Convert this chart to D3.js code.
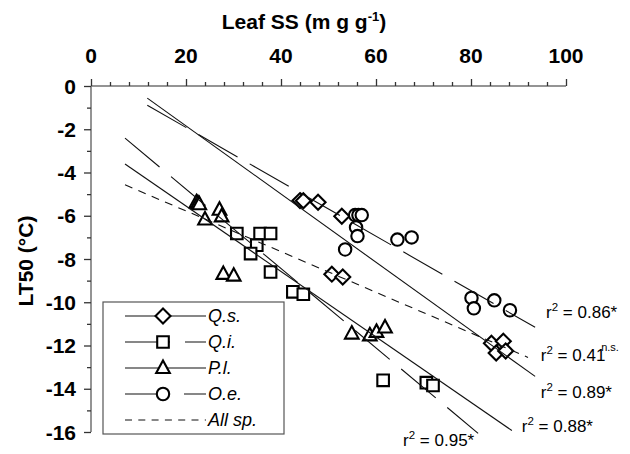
<!DOCTYPE html>
<html><head><meta charset="utf-8">
<script src="https://cdn.jsdelivr.net/npm/d3@7"></script>
<style>
body{margin:0;background:#fff}
svg{display:block}
text{font-family:"Liberation Sans",Arial,sans-serif;fill:#000}
</style>
</head><body>
<svg id="c" width="630" height="454"></svg>
<script>
// ---------- data ----------
const xTicks = [0, 20, 40, 60, 80, 100];
const yTicks = [0, -2, -4, -6, -8, -10, -12, -14, -16];
const speciesNames = ["Q.s.", "Q.i.", "P.l.", "O.e.", "All sp."];

const qsX = [44.0, 44.7, 47.8, 52.8, 50.7, 53.0, 84.3, 86.8, 85.3, 87.3];
const qsY = [-5.30, -5.31, -5.38, -6.02, -8.70, -8.83, -11.9, -11.8, -12.35, -12.25];

const qiX = [30.7, 35.6, 37.8, 34.9, 33.6, 37.8, 42.5, 44.7, 61.5, 70.6, 72.0];
const qiY = [-6.82, -6.82, -6.82, -7.36, -7.75, -8.60, -9.52, -9.63, -13.61, -13.72, -13.85];

const plX = [22.2, 22.5, 22.8, 27.05, 27.5, 24.0, 27.85, 30.05, 54.9, 58.7, 60.1, 61.9];
const plY = [-5.38, -5.42, -5.47, -5.72, -6.03, -6.17, -8.69, -8.77, -11.45, -11.53, -11.37, -11.17];

const oeX = [55.6, 56.3, 57.0, 55.8, 56.1, 53.5, 64.5, 67.5, 80.1, 80.6, 84.9, 88.2];
const oeY = [-5.97, -5.97, -5.97, -6.54, -6.94, -7.56, -7.10, -7.00, -9.80, -10.28, -9.91, -10.37];

// regression lines: [start, end] in data units
const qsFit = [[11.85, -0.56], [93.5, -13.43]];
const qiFit = [[7.16, -2.41], [81.5, -16.06]];
const plFit = [[7.16, -3.61], [88.6, -15.93]];
const oeFit = [[11.85, -0.89], [93.5, -11.16]];
const allFit = [[7.16, -4.57], [92.0, -12.55]];

// r2 labels: text, position in data units
const r2Text = ["0.86*", "0.41", "0.89*", "0.88*", "0.95*"];
const r2Pos = [[95.8, -10.74], [94.7, -12.73], [94.7, -14.44], [90.7, -16.02], [65.7, -16.67]];
const nsPos = [107.4, -12.27];

// ---------- drawing ----------
const svg = d3.select("#c");
const x = d3.scaleLinear().domain([0, 100]).range([91, 566]);
const y = d3.scaleLinear().domain([0, -16]).range([86, 432]);

const axisCol = "#707070";

// x axis (top)
const xAxis = d3.axisTop(x).tickValues(d3.range(0, 101, 4)).tickSize(4).tickFormat("");
const gx = svg.append("g").attr("transform", `translate(0,${y(0)})`).call(xAxis);
gx.select(".domain").attr("stroke", axisCol).attr("stroke-width", 1.5).attr("d", `M${x(0)},0H${x(100)}`);
gx.selectAll(".tick line").attr("stroke", "#333").attr("stroke-width", 1.3)
  .attr("y2", d => (d % 20 === 0 ? -7 : -4));
svg.append("g").selectAll("text").data(xTicks).join("text")
  .attr("x", d => x(d)).attr("y", 63).attr("text-anchor", "middle")
  .attr("font-size", 21).attr("font-weight", "bold").text(d => d);

// y axis (left)
const yAxis = d3.axisLeft(y).tickValues(d3.range(0, -16.5, -1)).tickSize(4).tickFormat("");
const gy = svg.append("g").attr("transform", `translate(${x(0)},0)`).call(yAxis);
gy.select(".domain").attr("stroke", axisCol).attr("stroke-width", 1.5).attr("d", `M0,${y(0)}V${y(-16)}`);
gy.selectAll(".tick line").attr("stroke", "#333").attr("stroke-width", 1.3)
  .attr("x2", d => (d % 2 === 0 ? -7 : -4));
svg.append("g").selectAll("text").data(yTicks).join("text")
  .attr("x", 76).attr("y", d => y(d)).attr("dy", "0.36em").attr("text-anchor", "end")
  .attr("font-size", 21).attr("font-weight", "bold").text(d => d);

// axis titles
const xt = svg.append("text").attr("x", 304).attr("y", 29).attr("text-anchor", "middle")
  .attr("font-size", 21).attr("font-weight", "bold");
xt.append("tspan").text("Leaf SS (m g g");
xt.append("tspan").attr("font-size", 13).attr("dy", -8).text("-1");
xt.append("tspan").attr("dy", 8).text(")");

svg.append("text").attr("transform", "translate(33,261) rotate(-90)").attr("text-anchor", "middle")
  .attr("font-size", 21).attr("font-weight", "bold").text("LT50 (°C)");

// markers
const markerPath = {
  diamond: "M0,-7.5L7.5,0L0,7.5L-7.5,0Z",
  square: "M-5.8,-5.8H5.8V5.8H-5.8Z",
  triangle: "M0,-7.5L6.8,5L-6.8,5Z",
  circle: "M6.2,0A6.2,6.2 0 1 1 -6.2,0A6.2,6.2 0 1 1 6.2,0Z"
};
function drawPoints(xs, ys, shape) {
  svg.append("g").selectAll("path").data(xs.map((v, i) => [v, ys[i]])).join("path")
    .attr("d", markerPath[shape])
    .attr("transform", d => `translate(${x(d[0])},${y(d[1])})`)
    .attr("fill", "#fff").attr("stroke", "#000").attr("stroke-width", 2.1);
}
drawPoints(qsX, qsY, "diamond");
drawPoints(qiX, qiY, "square");
drawPoints(plX, plY, "triangle");
drawPoints(oeX, oeY, "circle");

// regression lines
const line = d3.line().x(d => x(d[0])).y(d => y(d[1]));
const fits = [
  {pts: qsFit, dash: null},
  {pts: qiFit, dash: "45,15"},
  {pts: plFit, dash: null},
  {pts: oeFit, dash: "45,14"},
  {pts: allFit, dash: "8,6.5"}
];
svg.append("g").selectAll("path").data(fits).join("path")
  .attr("d", d => line(d.pts)).attr("fill", "none").attr("stroke", "#111")
  .attr("stroke-width", 1.1).attr("stroke-dasharray", d => d.dash);

// r2 labels
const lab = svg.append("g").selectAll("text").data(r2Text).join("text")
  .attr("x", (d, i) => x(r2Pos[i][0])).attr("y", (d, i) => y(r2Pos[i][1]))
  .attr("font-size", 17);
lab.append("tspan").text("r");
lab.append("tspan").attr("font-size", 11.5).attr("dy", -7).text("2");
lab.append("tspan").attr("dy", 7).text(d => " = " + d);
svg.append("text").attr("x", x(nsPos[0])).attr("y", y(nsPos[1])).attr("font-size", 11).text("n.s.");

// legend
const lg = svg.append("g");
lg.append("rect").attr("x", 103).attr("y", 302).attr("width", 181).attr("height", 132)
  .attr("fill", "#fff").attr("stroke", "#555").attr("stroke-width", 1.2);
const legShapes = ["diamond", "square", "triangle", "circle", null];
const legDash = [null, "45,15", null, "45,14", "7,6.3"];
speciesNames.forEach((s, i) => {
  const yy = 316 + i * 26;
  lg.append("path").attr("d", `M125,${yy}H206`).attr("stroke", "#111").attr("stroke-width", 1.1)
    .attr("stroke-dasharray", legDash[i]);
  if (legShapes[i]) {
    lg.append("path").attr("d", markerPath[legShapes[i]]).attr("transform", `translate(163,${yy})`)
      .attr("fill", "#fff").attr("stroke", "#000").attr("stroke-width", 2.1);
  }
  lg.append("text").attr("x", 208).attr("y", yy).attr("dy", "0.36em").attr("font-size", 18)
    .attr("font-style", "italic").text(s);
});
</script>
</body></html>
